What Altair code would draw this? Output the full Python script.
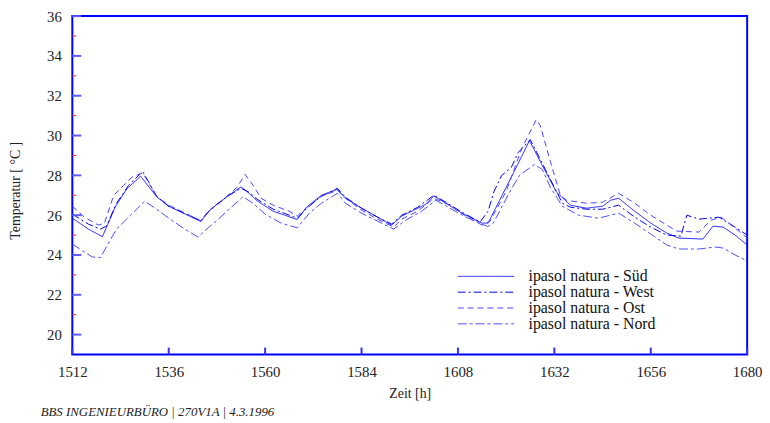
import altair as alt
import pandas as pd

series_names = ["ipasol natura - Süd", "ipasol natura - West",
                "ipasol natura - Ost", "ipasol natura - Nord"]

sud_t = [1512, 1516, 1519.5, 1522.7, 1525.6, 1529, 1533, 1536, 1544, 1546, 1548, 1551, 1554, 1556,
         1558, 1562, 1568, 1570.4, 1574, 1578, 1580, 1584, 1588, 1591.5, 1594, 1597, 1600, 1602,
         1605, 1609, 1614, 1615.5, 1620, 1623, 1625.8, 1629, 1632.5, 1636, 1640, 1644, 1646, 1648,
         1652, 1656, 1660, 1663, 1669, 1671.5, 1674, 1677, 1680]
sud_v = [25.85, 25.3, 24.92, 26.42, 27.33, 27.96, 26.92, 26.45, 25.68, 26.2, 26.55, 27.0, 27.42, 27.1,
         26.72, 26.2, 25.78, 26.42, 27.0, 27.3, 26.85, 26.35, 25.9, 25.5, 25.95, 26.25, 26.55, 26.97,
         26.6, 26.1, 25.6, 25.6, 27.4, 28.6, 29.75, 28.5, 27.17, 26.5, 26.35, 26.45, 26.75, 26.85,
         26.2, 25.6, 25.1, 24.85, 24.8, 25.45, 25.4, 25.0, 24.5]

west_t = [1512, 1516, 1519, 1520.5, 1523, 1526, 1529.5, 1533, 1536, 1544, 1546, 1548, 1551, 1554,
          1556, 1558, 1562, 1568, 1570.4, 1574, 1578, 1580, 1584, 1588, 1591.5, 1594, 1598, 1602,
          1605, 1609, 1613.5, 1615.5, 1617, 1618.9, 1621.3, 1623, 1626, 1629, 1632, 1634, 1636,
          1640, 1644, 1648, 1652, 1656, 1660, 1663.5, 1665, 1668, 1673, 1677, 1680]
west_v = [26.05, 25.55, 25.3, 25.45, 26.6, 27.5, 28.2, 26.95, 26.45, 25.72, 26.2, 26.55, 27.0, 27.35,
          27.15, 26.8, 26.3, 25.85, 26.35, 26.95, 27.35, 26.9, 26.35, 25.9, 25.55, 26.0, 26.4, 27.0,
          26.65, 26.15, 25.65, 26.2, 27.2, 28.0, 28.4, 29.15, 29.8, 28.6, 27.4, 26.6, 26.4,
          26.3, 26.3, 26.5, 25.9, 25.4, 25.0, 24.95, 26.0, 25.8, 25.9, 25.4, 25.0]

ost_t = [1512, 1515, 1518.5, 1520, 1522.3, 1524.8, 1526.8, 1529.5, 1533, 1536, 1544, 1546, 1548,
         1551, 1553, 1555, 1557, 1559, 1562, 1566, 1568, 1570.4, 1574, 1578, 1580, 1584, 1588, 1592,
         1594, 1598, 1602, 1606, 1610, 1614, 1616, 1620, 1624, 1627.5, 1628.5, 1631, 1633.5, 1635,
         1640, 1644, 1648, 1652, 1656, 1660, 1662.5, 1668, 1671, 1673.5, 1677, 1680]
ost_v = [26.45, 25.9, 25.5, 25.6, 27.0, 27.5, 27.91, 28.13, 26.95, 26.5, 25.72, 26.25, 26.5,
         27.05, 27.4, 28.05, 27.5, 26.85, 26.5, 26.2, 25.95, 26.4, 26.95, 27.25, 26.85, 26.25, 25.8, 25.4,
         25.8, 26.2, 26.85, 26.5, 25.95, 25.5, 25.7, 27.2, 29.4, 30.8, 30.5, 28.7, 27.0, 26.75,
         26.6, 26.65, 27.1, 26.6, 26.0, 25.5, 25.2, 25.15, 25.75, 25.9, 25.35, 24.85]

nord_t = [1512, 1515, 1517, 1519, 1521, 1523, 1526, 1530, 1533, 1536, 1540, 1543.3, 1546, 1548,
          1551, 1554.5, 1557, 1560, 1564, 1568, 1571, 1574, 1578, 1580, 1584, 1588, 1592, 1595,
          1599, 1602.5, 1606, 1610, 1615.4, 1616.8, 1620.9, 1623.3, 1627, 1629, 1631, 1634, 1638,
          1643, 1648, 1652, 1656, 1660, 1663, 1668, 1672, 1674, 1677, 1680]
nord_v = [24.55, 24.15, 23.9, 23.87, 24.6, 25.3, 25.9, 26.7, 26.3, 25.85, 25.3, 24.9, 25.4, 25.73,
          26.3, 26.92, 26.6, 26.05, 25.6, 25.36, 26.1, 26.6, 27.1, 26.6, 26.1, 25.7, 25.3, 25.75,
          26.2, 26.75, 26.35, 25.9, 25.43, 25.6, 27.17, 28.0, 28.54, 28.3, 27.4, 26.45, 26.0,
          25.85, 26.1, 25.6, 25.05, 24.5, 24.3, 24.3, 24.4, 24.35, 24.0, 23.7]

x_ticks = [1512, 1536, 1560, 1584, 1608, 1632, 1656, 1680]
y_ticks = [20, 22, 24, 26, 28, 30, 32, 34, 36]
y_minor = [21, 23, 25, 27, 29, 31, 33, 35]

series_colors = ["#1a1aff", "#0000e6", "#4545ff", "#4d4dff"]
series_dashes = [[1, 0], [8, 3, 2, 3], [6, 4], [9, 3, 3, 3]]

footer = "BBS INGENIEURBÜRO | 270V1A | 4.3.1996"

rows = []
for name, ts, vs in zip(series_names, [sud_t, west_t, ost_t, nord_t], [sud_v, west_v, ost_v, nord_v]):
    rows += [{"series": name, "t": t, "v": v} for t, v in zip(ts, vs)]
df = pd.DataFrame(rows)

SERIF = "Liberation Serif, Times New Roman, DejaVu Serif, serif"
xscale = alt.Scale(domain=[1512, 1680], nice=False, zero=False)
yscale = alt.Scale(domain=[19, 36], nice=False, zero=False)
XT = "Zeit [h]"
YT = "Temperatur [ °C ]"

leg = alt.Legend(orient="none", legendX=410, legendY=255, title=None, padding=0,
                 symbolType="M-6,0H6", symbolSize=90, symbolStrokeWidth=1,
                 labelFont=SERIF, labelFontSize=16, labelColor="#111",
                 labelOffset=35, rowPadding=0, labelLimit=300)

lines = alt.Chart(df).mark_line(strokeWidth=1, clip=True).encode(
    x=alt.X("t:Q", scale=xscale, title=XT,
            axis=alt.Axis(values=x_ticks, format="d", titleX=341, titleY=39,
                          titleBaseline="middle", labelPadding=10, labelFontSize=15,
                          labelFlush=False)),
    y=alt.Y("v:Q", scale=yscale, title=YT,
            axis=alt.Axis(values=y_ticks, format="d", titleX=-57, titleY=176,
                          titleBaseline="middle", titleAlign="center", titleAngle=270,
                          labelPadding=11, labelFontSize=15, labelFlush=False)),
    color=alt.Color("series:N", scale=alt.Scale(domain=series_names, range=series_colors), legend=leg),
    strokeDash=alt.StrokeDash("series:N", scale=alt.Scale(domain=series_names, range=series_dashes), legend=leg),
)

ymaj = alt.Chart(pd.DataFrame({"v": y_ticks})).mark_rule(color="#5a5aff", strokeWidth=2).encode(
    y=alt.Y("v:Q", scale=yscale, title=YT), x=alt.value(0), x2=alt.value(9))
ymin = alt.Chart(pd.DataFrame({"v": y_minor})).mark_rule(color="#ff2020", strokeWidth=1).encode(
    y=alt.Y("v:Q", scale=yscale, title=YT), x=alt.value(0), x2=alt.value(4))
xmaj = alt.Chart(pd.DataFrame({"t": x_ticks})).mark_rule(color="#3030ff", strokeWidth=2).encode(
    x=alt.X("t:Q", scale=xscale, title=XT), y=alt.value(342), y2=alt.value(335))

foot = alt.Chart(pd.DataFrame({"s": [footer]})).mark_text(
    font=SERIF, fontStyle="italic", fontSize=13, align="left", baseline="alphabetic", color="#222"
).encode(text="s:N", x=alt.value(-32), y=alt.value(404))

chart = alt.layer(lines, ymaj, ymin, xmaj, foot).properties(
    width=682, height=342,
    padding={"left": 65, "top": 6, "right": 15, "bottom": 66},
    autosize=alt.AutoSizeParams(type="none"),
    background="white",
).configure_view(
    stroke="#0000ff", strokeWidth=2
).configure_axis(
    domain=False, ticks=False, grid=False,
    labelFont=SERIF, labelColor="#222", titleFont=SERIF, titleColor="#222",
    titleFontSize=14, titleFontWeight="normal",
)

chart.save("out.html", embed_options={"renderer": "svg", "actions": False})
